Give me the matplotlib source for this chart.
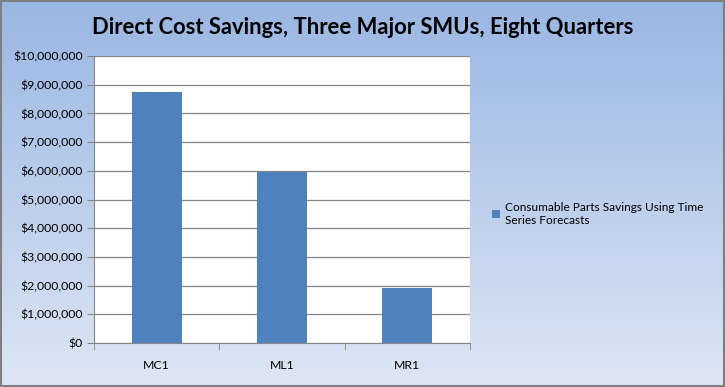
import numpy as np
import matplotlib.pyplot as plt
from matplotlib.ticker import FuncFormatter
from matplotlib.colors import LinearSegmentedColormap

plt.rcParams['font.family'] = ['Lato', 'DejaVu Sans']

units = ['MC1', 'ML1', 'MR1']
savings = [8750000, 5950000, 1930000]
series_name = 'Consumable Parts Savings Using Time\nSeries Forecasts'

fig = plt.figure(figsize=(7.25, 3.87), dpi=100)

# gradient background
bg = fig.add_axes([0, 0, 1, 1], zorder=-10)
grad = np.linspace(0, 1, 256).reshape(-1, 1)
cmap = LinearSegmentedColormap.from_list('bg', ['#dde6f4', '#9ab6e3'])
bg.imshow(grad, aspect='auto', cmap=cmap, origin='lower', extent=[0, 1, 0, 1])
bg.set_xlim(0, 1)
bg.set_ylim(0, 1)
bg.axis('off')
bg.add_patch(plt.Rectangle((0.001, 0.002), 0.997, 0.995, fill=False,
                           edgecolor='#7f7f7f', linewidth=1.5, transform=bg.transAxes))

ax = fig.add_axes([94 / 725, 1 - 343 / 387, (470 - 94) / 725, (343 - 56) / 387])
ax.set_facecolor('white')
x = np.arange(len(units))
ax.bar(x, savings, width=0.4, color='#4f81bd', label=series_name, zorder=3)
ax.set_xlim(-0.5, 2.5)
ax.set_ylim(0, 10000000)
ax.set_yticks(np.arange(0, 10000001, 1000000))
ax.yaxis.set_major_formatter(FuncFormatter(lambda v, p: '${:,.0f}'.format(v)))
ax.set_xticks(x)
ax.set_xticklabels(units)
ax.set_xticks([-0.5, 0.5, 1.5, 2.5], minor=True)
ax.tick_params(axis='x', which='major', length=0, pad=12)
ax.tick_params(axis='x', which='minor', length=5, color='#868686', direction='out')
ax.tick_params(axis='y', length=5, color='#868686', direction='out', pad=3)
ax.tick_params(labelsize=8.8)
ax.grid(axis='y', color='#868686', linewidth=0.9, zorder=0)
for s in ['top', 'right']:
    ax.spines[s].set_visible(False)
for s in ['left', 'bottom']:
    ax.spines[s].set_color('#868686')

fig.text(0.5, 1 - 27 / 387, 'Direct Cost Savings, Three Major SMUs, Eight Quarters',
         ha='center', va='center', fontsize=15.8, fontweight='bold')

ax.legend(loc='center left', bbox_to_anchor=(1.03, 0.45), frameon=False,
          fontsize=8.6, handlelength=0.7, handleheight=0.7, handletextpad=0.4)

fig.savefig('out.png', dpi=100)
